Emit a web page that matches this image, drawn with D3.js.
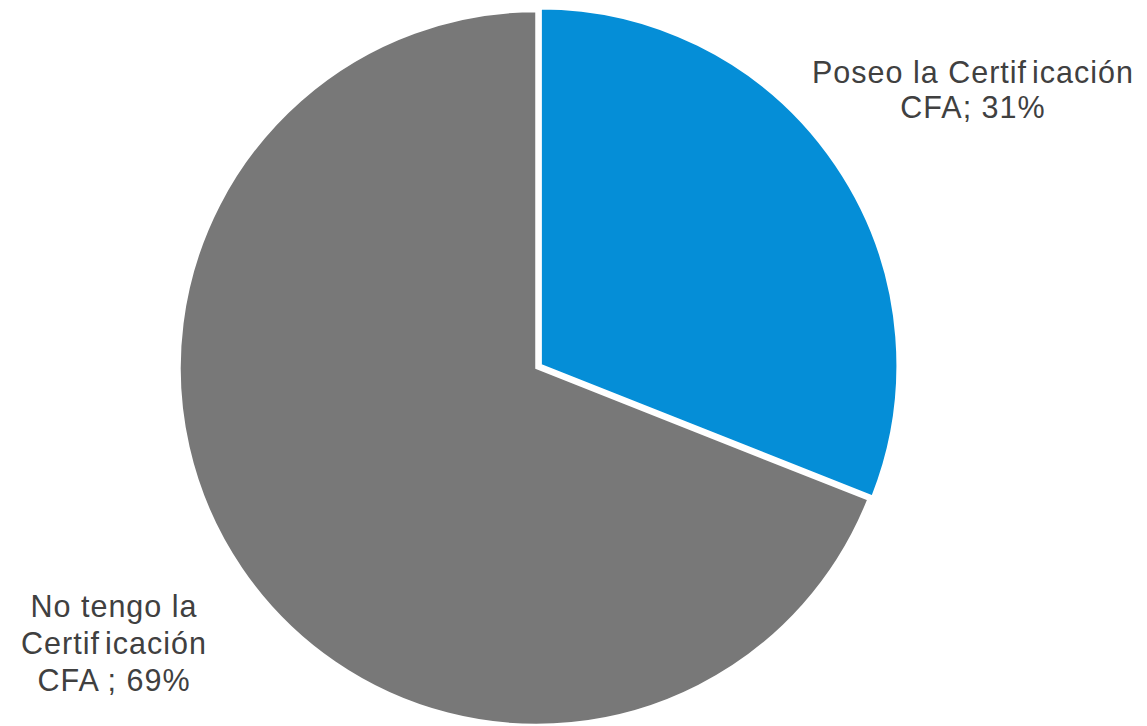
<!DOCTYPE html>
<html>
<head>
<meta charset="utf-8">
<script src="https://cdn.jsdelivr.net/npm/d3@7"></script>
<style>
  html, body { margin: 0; padding: 0; background: #ffffff; }
  svg { display: block; }
</style>
</head>
<body>
<svg id="chart" width="1147" height="726"></svg>
<script>
// ---- data ----
const categories = ["Poseo la Certificación CFA", "No tengo la Certificación CFA"];
const values = [31, 69];
const percentLabels = ["31%", "69%"];
const labelLines = [
  ["Poseo la Certificación", "CFA; 31%"],
  ["No tengo la", "Certificación", "CFA ; 69%"]
];
const colors = ["#058ED7", "#787878"];

// ---- layout ----
const W = 1147, H = 726;
const cx = 536.5, cy = 368, R = 357;
const explode = [5, 0];
const labelLayout = [
  { x: 973, y: 83, lh: 35 },
  { x: 114, y: 617, lh: 37 }
];

const svg = d3.select("#chart");
const pie = d3.pie().sort(null).value(d => d)
  .startAngle(0).endAngle(2 * Math.PI);
const arcs = pie(values);
const arc = d3.arc().innerRadius(0).outerRadius(R);

const g = svg.append("g").attr("transform", `translate(${cx},${cy})`);

g.selectAll("path.slice")
  .data(arcs)
  .join("path")
  .attr("class", "slice")
  .attr("d", arc)
  .attr("fill", (d, i) => colors[i])
  .attr("stroke", "#ffffff")
  .attr("stroke-width", 2.5)
  .attr("stroke-linejoin", "miter")
  .attr("transform", (d, i) => {
    const a = (d.startAngle + d.endAngle) / 2;
    const dx = Math.sin(a) * explode[i];
    const dy = -Math.cos(a) * explode[i];
    return `translate(${dx},${dy})`;
  });

// ---- labels ----
labelLines.forEach((lines, i) => {
  const L = labelLayout[i];
  const t = svg.append("text")
    .attr("text-anchor", "middle")
    .attr("font-family", "'Liberation Sans', Arial, sans-serif")
    .attr("font-size", 30.5)
    .attr("letter-spacing", 1.0)
    .attr("fill", "#404040");
  lines.forEach((line, j) => {
    const k = line.indexOf("Certif");
    const ts = t.append("tspan").attr("x", L.x).attr("y", L.y + j * L.lh);
    if (k >= 0) {
      ts.append("tspan").text(line.slice(0, k + 6));
      ts.append("tspan").attr("dx", 5).text(line.slice(k + 6));
    } else {
      ts.text(line);
    }
  });
});
</script>
</body>
</html>
